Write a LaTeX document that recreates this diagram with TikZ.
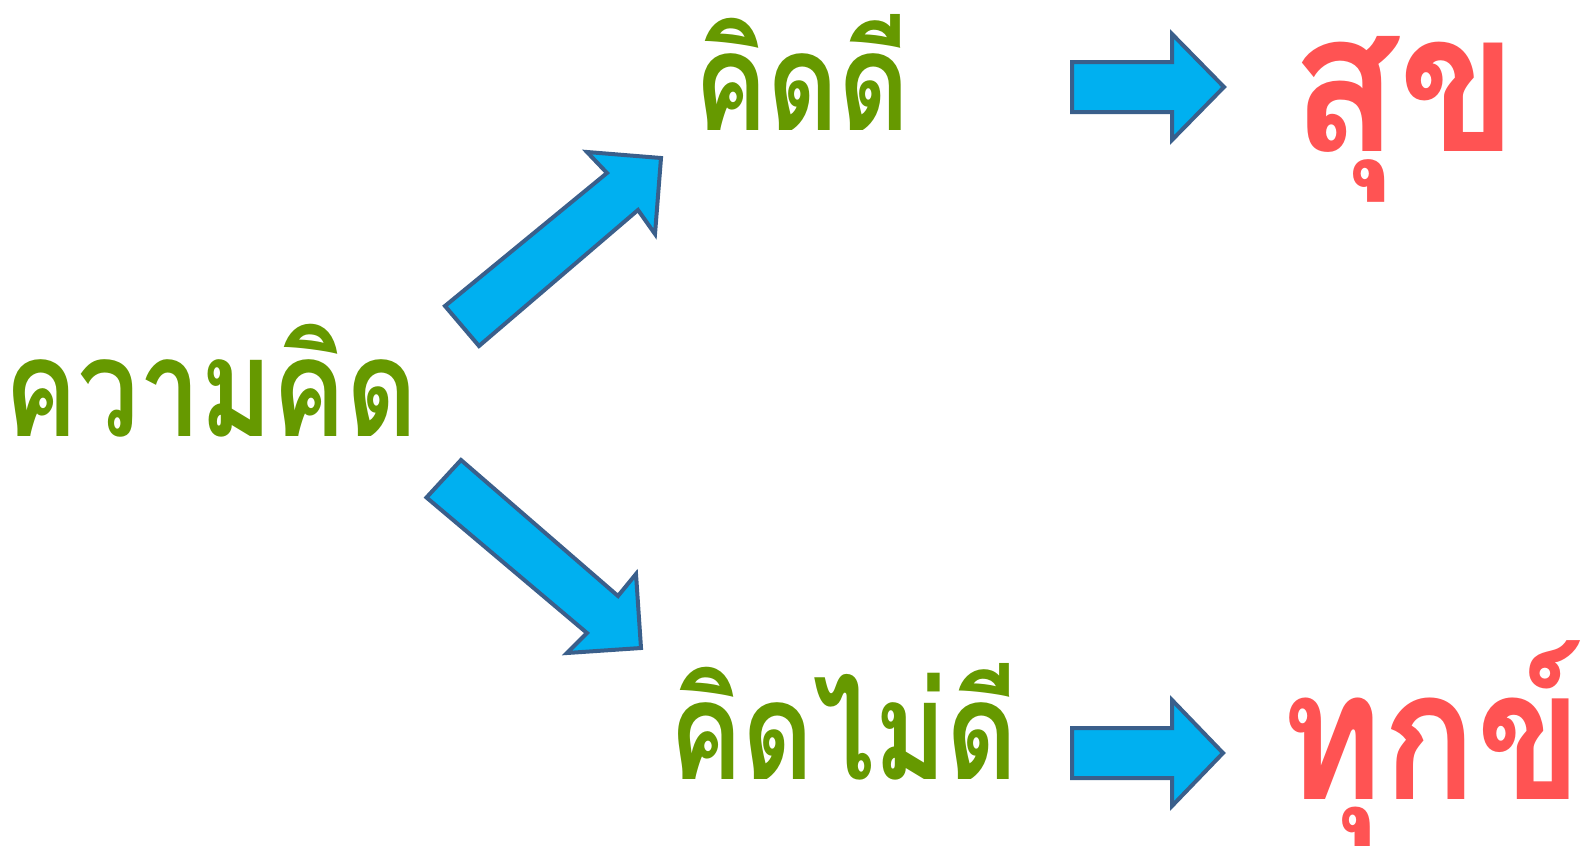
\documentclass[tikz,border=0pt]{standalone}
\usepackage{fontspec}
\newfontfamily\thaigreen[Script=Thai, FakeStretch=0.8]{Loma}
\newfontfamily\thairedA[Script=Thai, FakeStretch=0.9]{Loma}
\newfontfamily\thairedB[Script=Thai, FakeStretch=0.86]{Loma}
\definecolor{tgreen}{HTML}{669900}
\definecolor{tred}{HTML}{FF5353}
\definecolor{afill}{HTML}{00B0F0}
\definecolor{aline}{HTML}{3A5F8B}
\tikzset{
  green text/.style={inner sep=0pt, anchor=base west, text=tgreen, font=\thaigreen\bfseries\fontsize{137}{140}\selectfont},
  red text/.style={inner sep=0pt, anchor=base west, text=tred},
  blockarrow/.style={fill=afill, draw=aline, line width=4pt, line join=miter}
}
\begin{document}
\begin{tikzpicture}[x=1pt,y=-1pt]
\useasboundingbox (0,0) rectangle (1596,846);
\node[green text] (think) at (4,436.7) {ความคิด};
\node[green text] (good) at (694,130) {คิดดี};
\node[green text] (bad) at (669,779) {คิดไม่ดี};
\node[red text, font=\thairedA\bfseries\fontsize{195}{200}\selectfont] (happy) at (1291,151.7) {สุข};
\node[red text, font=\thairedB\bfseries\fontsize{181}{190}\selectfont] (suffer) at (1280,799) {ทุกข์};
% diagonal arrows
\draw[blockarrow] (445,306) -- (607,173) -- (587,152) -- (661,158) -- (655,234) -- (638,210) -- (479,346) -- cycle;
\draw[blockarrow] (461,460) -- (618,596) -- (636,574) -- (641,648) -- (567,653) -- (587,633) -- (426.5,497.5) -- cycle;
% horizontal arrows
\draw[blockarrow] (1072,62) -- (1172,62) -- (1172,34) -- (1224,87) -- (1172,140) -- (1172,112) -- (1072,112) -- cycle;
\draw[blockarrow] (1072,728) -- (1172,728) -- (1172,700) -- (1223,753) -- (1172,806) -- (1172,778) -- (1072,778) -- cycle;
\end{tikzpicture}
\end{document}
